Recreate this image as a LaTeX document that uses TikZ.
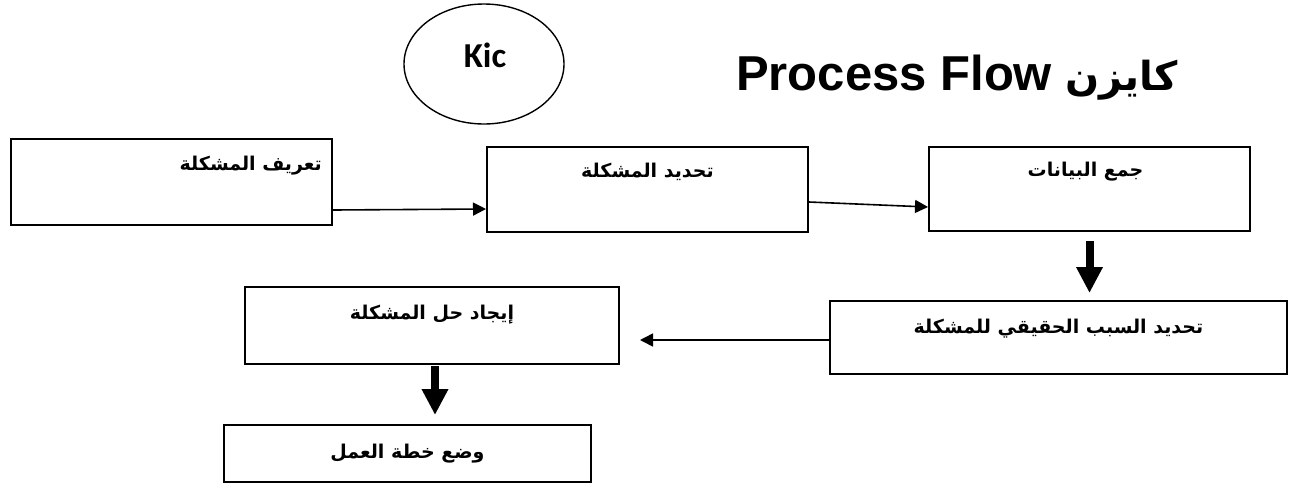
\documentclass[tikz,border=0pt]{standalone}
\usepackage{fontspec}
\usetikzlibrary{arrows.meta,calc,shapes.geometric}
\TeXXeTstate=1
\newfontfamily\latinbold{Liberation Sans}
\newfontfamily\kicfont{Carlito}
\newfontfamily\arabicfont[Script=Arabic]{DejaVu Sans}
\begin{document}
\begin{tikzpicture}[x=1pt,y=-1pt,
  stepbox/.style={draw,line width=2pt,inner sep=0pt,rectangle},
  steptext/.style={inner sep=0pt,font=\arabicfont\bfseries\fontsize{19}{22}\selectfont},
  thinarrow/.style={line width=1.6pt,-{Triangle[length=13pt,width=13pt]}},
  fatarrow/.style={line width=8pt,-{Triangle[length=26pt,width=25pt]}}]
\useasboundingbox (0,0) rectangle (1295,483);

% heading: ellipse badge and title
\node[draw,line width=1.4pt,ellipse,minimum width=160pt,minimum height=120pt,inner sep=0pt] (badge) at (484,64) {};
\node[inner sep=0pt,font=\kicfont\bfseries\fontsize{35}{37}\selectfont] (kic) at (485,55) {Kic};
\node[anchor=base west,inner sep=0pt] (title) at (736,90)
  {{\latinbold\bfseries\fontsize{49}{51}\selectfont Process Flow }{\arabicfont\bfseries\fontsize{40}{44}\selectfont\beginR كايزن\endR}};

% process boxes
\node[stepbox,minimum width=321pt,minimum height=86pt] (b1) at (171.5,182) {};
\node[stepbox,minimum width=321pt,minimum height=85pt] (b2) at (647.5,189.5) {};
\node[stepbox,minimum width=321pt,minimum height=84pt] (b3) at (1089.5,189) {};
\node[stepbox,minimum width=457pt,minimum height=73pt] (b4) at (1058.5,337.5) {};
\node[stepbox,minimum width=374pt,minimum height=77pt] (b5) at (432,325.5) {};
\node[stepbox,minimum width=367pt,minimum height=57pt] (b6) at (407.5,453.5) {};

% box captions
\node[steptext,anchor=east] (t1) at ($(b1.north east)+(-11,28)$) {\beginR تعريف المشكلة\endR};
\node[steptext] (t2) at ($(b2.north)+(0,26)$) {\beginR تحديد المشكلة\endR};
\node[steptext] (t3) at ($(b3.north)+(-4,26)$) {\beginR جمع البيانات\endR};
\node[steptext] (t4) at ($(b4.north)+(0,29)$) {\beginR تحديد السبب الحقيقي للمشكلة\endR};
\node[steptext] (t5) at ($(b5.north)+(0,29)$) {\beginR إيجاد حل المشكلة\endR};
\node[steptext] (t6) at (b6.center) {\beginR وضع خطة العمل\endR};

% connectors
\draw[thinarrow] ([yshift=-28pt]b1.east) -- ([yshift=-19.5pt]b2.west);
\draw[thinarrow] ([yshift=-12.5pt]b2.east) -- ([yshift=-18pt]b3.west);
\draw[fatarrow] ($(b3.south)+(0,9)$) -- ($(b3.south |- b4.north)+(0,-7)$);
\coordinate (leftend) at ($(b5.east |- b4.west)+(20,2.5)$);
\draw[thinarrow] ([yshift=-2.5pt]b4.west) -- (leftend);
\draw[fatarrow] ($(b5.south)+(3,1)$) -- ($(b5.south |- b6.north)+(3,-9)$);
\end{tikzpicture}
\end{document}
